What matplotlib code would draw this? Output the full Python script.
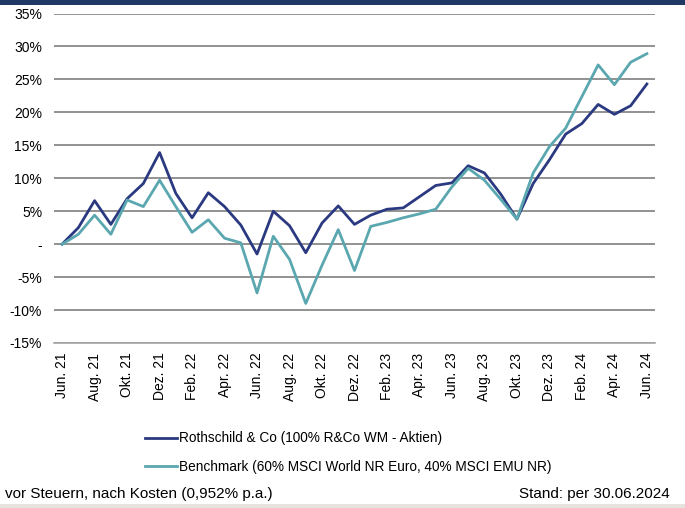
import matplotlib
matplotlib.use("Agg")
import matplotlib.pyplot as plt
from matplotlib.patches import Rectangle
from matplotlib.ticker import FuncFormatter, MultipleLocator

plt.rcParams['font.family'] = ['Liberation Sans', 'DejaVu Sans']

# Monthly cumulative performance in %, Jun. 21 .. Jun. 24
months = ["Jun. 21", "Jul. 21", "Aug. 21", "Sep. 21", "Okt. 21", "Nov. 21",
          "Dez. 21", "Jan. 22", "Feb. 22", "Mrz. 22", "Apr. 22", "Mai. 22",
          "Jun. 22", "Jul. 22", "Aug. 22", "Sep. 22", "Okt. 22", "Nov. 22",
          "Dez. 22", "Jan. 23", "Feb. 23", "Mrz. 23", "Apr. 23", "Mai. 23",
          "Jun. 23", "Jul. 23", "Aug. 23", "Sep. 23", "Okt. 23", "Nov. 23",
          "Dez. 23", "Jan. 24", "Feb. 24", "Mrz. 24", "Apr. 24", "Mai. 24",
          "Jun. 24"]
rothschild = [0, 2.5, 6.6, 3.0, 6.9, 9.2, 13.9, 7.7, 4.0, 7.8, 5.7, 2.9,
              -1.5, 5.0, 2.8, -1.3, 3.2, 5.8, 3.0, 4.4, 5.3, 5.5, 7.2, 8.9,
              9.3, 11.9, 10.8, 7.6, 3.8, 9.2, 12.8, 16.7, 18.3, 21.2, 19.7,
              21.0, 24.3]
benchmark = [0, 1.5, 4.4, 1.5, 6.7, 5.7, 9.7, 5.7, 1.8, 3.7, 0.9, 0.2,
             -7.4, 1.2, -2.3, -9.0, -3.2, 2.2, -4.0, 2.7, 3.3, 4.0, 4.6, 5.3,
             8.7, 11.5, 9.7, 6.8, 3.8, 10.8, 14.8, 17.6, 22.4, 27.2, 24.2,
             27.6, 28.9]
labels = ["Rothschild & Co (100% R&Co WM - Aktien)",
          "Benchmark (60% MSCI World NR Euro, 40% MSCI EMU NR)"]
colors = ["#2b3a80", "#5ba7b0"]

W, H = 685, 508
fig = plt.figure(figsize=(W / 100, H / 100), dpi=100)

# navy bar on top, light band at the bottom
fig.add_artist(Rectangle((0, 1 - 5 / H), 1, 5 / H, transform=fig.transFigure,
                         color="#1f3864", lw=0))
fig.add_artist(Rectangle((0, 0), 1, 4 / H, transform=fig.transFigure,
                         color="#e6e3df", lw=0))

ax = fig.add_axes([54 / W, 1 - 343 / H, (655 - 54) / W, (343 - 13.5) / H])
x = list(range(len(months)))
ax.plot(x, rothschild, color=colors[0], lw=2.0, label=labels[0], zorder=3)
ax.plot(x, benchmark, color=colors[1], lw=2.0, label=labels[1], zorder=3)

ax.set_xlim(-0.5, len(months) - 0.5)
ax.set_ylim(-15, 35)
ax.yaxis.set_major_locator(MultipleLocator(5))
ax.yaxis.set_major_formatter(FuncFormatter(lambda v, p: "-" if abs(v) < 1e-9 else f"{v:.0f}%"))
ax.grid(axis="y", color="#7f7f7f", lw=1.2)
ax.set_axisbelow(True)
for s in ["top", "right", "left"]:
    ax.spines[s].set_visible(False)
ax.spines["bottom"].set_color("#a6a6a6")
ax.spines["bottom"].set_linewidth(1.2)

ax.set_xticks(x[::2])
ax.set_xticklabels(months[::2], rotation=90, fontsize=10)
ax.tick_params(axis="x", length=0, pad=7)
ax.tick_params(axis="y", length=0, pad=8.5, labelsize=10)

fig.legend(loc="upper left", bbox_to_anchor=(140 / W, 1 - 426 / H),
           frameon=False, fontsize=9.8, handlelength=2.35, handletextpad=0.1,
           labelspacing=1.05, borderaxespad=0)

fig.text(5 / W, 1 - 494 / H, "vor Steuern, nach Kosten (0,952% p.a.)",
         fontsize=11, va="center", ha="left")
fig.text(670 / W, 1 - 494 / H, "Stand: per 30.06.2024",
         fontsize=11, va="center", ha="right")

fig.savefig("out.png", dpi=100)
